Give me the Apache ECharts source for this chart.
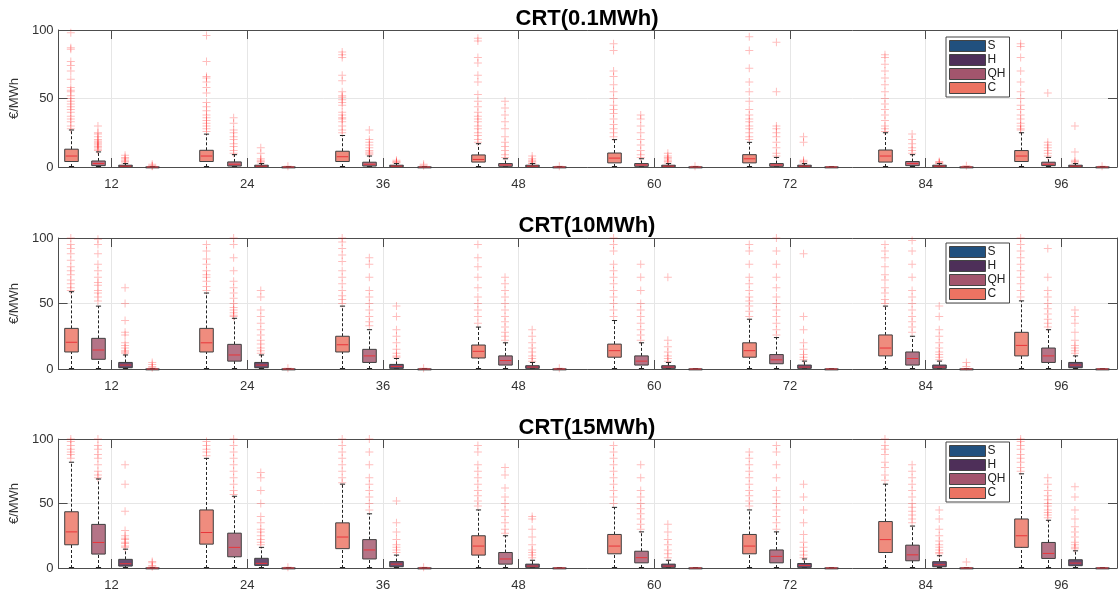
<!DOCTYPE html>
<html>
<head>
<meta charset="utf-8">
<title>CRT boxplots</title>
<style>
  * { margin: 0; padding: 0; }
  body { background: #fff; }
</style>
</head>
<body>
<div id="chart" style="width:1118px;height:592px;"></div>
<script src="https://cdn.jsdelivr.net/npm/echarts@6/dist/echarts.min.js"></script>
<script>
// ---- data ----
var groupLabels = ['12', '24', '36', '48', '60', '72', '84', '96'];
var boxNames = ['C', 'QH', 'H', 'S'];
var titles = ['CRT(0.1MWh)', 'CRT(10MWh)', 'CRT(15MWh)'];
var yTicks = [0, 50, 100];

// box stats per group: [lower whisker, Q1, median, Q3, upper whisker]
var p1C  = [[0,4,8,13,27],[0,4,8,12.2,24],[0,4,7.5,11.5,23],[0,3.6,5.5,8.8,17],[0,3,6.5,10.2,20],[0,3,6,9,18],[0,3.6,8,12.4,25],[0,4,8,12,25]];
var p1QH = [[0,1,2.5,4.4,11],[0,0.7,2,3.7,9],[0,0.7,2,3.5,8],[0,0.5,1.5,2.5,6],[0,0.5,1.5,2.5,6],[0,0.5,1.5,2.5,7],[0,1,2.5,4,9],[0,1,2,3.5,7]];
var p1H  = [[0,0.2,0.6,1.3,2.5],[0,0.2,0.6,1.3,2.5],[0,0.2,0.6,1.3,2.5],[0,0.2,0.6,1.3,2.5],[0,0.2,0.6,1.3,2.5],[0,0.2,0.6,1.3,2.5],[0,0.2,0.6,1.3,2.5],[0,0.2,0.6,1.3,2.5]];
var p1S  = [[0,0,0,0.1,0.3],[0,0,0,0.1,0.3],[0,0,0,0.1,0.3],[0,0,0,0.1,0.3],[0,0,0,0.1,0.3],[0,0,0,0.1,0.3],[0,0,0,0.1,0.3],[0,0,0,0.1,0.3]];
var p1Cout  = [[28,30,33,35,37,40,42,44,46,48,50,52,55,56,58,64,70,74,77,86,87,98],[26,28,30,32,34,36,38,41,44,47,54,58,62,65,66,77,96],[25,27,30,33,35,36,38,40,45,47,49,51,52,55,63,67,80,82,84],[18,20,23,25,28,30,33,35,37,40,44,48,53,62,67,76,80,92,94],[22,25,28,31,35,39,42,45,50,55,60,66,70,85,90],[20,22,25,28,30,33,35,38,42,48,55,62,72,85,95],[26,28,30,34,38,42,46,50,55,60,65,70,75,80,82],[27,28,30,32,35,38,42,45,50,55,62,70,80,88,90]];
var p1QHout = [[12,13,14,15,16,17,18,19,20,22,24,25,30],[10,12,15,17,20,22,25,27,32,36],[9,10,11,12,14,16,18,20,27],[7,9,12,15,18,22,28,33,38,43,48],[7,9,12,16,20,25,30,35,38],[8,10,14,18,22,25,28,30,55,91],[10,12,14,17,20,24],[8,10,12,14,16,18,54]];
var p1Hout  = [[3,4,5,6,7,8.5],[3,4,5,6,10,14],[3,3.5,4,5],[2.5,3,4,5,6,8],[3,4,5,6,7,8,10],[3,4,5,18,22],[2.5,3,3.5,4],[3,4,5,11,30]];
var p1Sout  = [[0.5,1,2],[0.5],[1,2],[0.5],[0.5],[],[1],[0.5]];

var p2C  = [[0,13,20.4,31,59],[0,13,20,31,58],[0,13,18.5,25,48],[0,8.4,13.5,18.3,32],[0,9,14,19,37],[0,9,14,20,38],[0,10,16,26,48],[0,10,18,28,52]];
var p2QH = [[0,7.4,14.5,23.4,48],[0,6,10.7,18.8,38.7],[0,5,10,15,30],[0,3,6.5,10,20],[0,3,6,10,20],[0,4,7,11,24],[0,3,8,13,25],[0,5,10,16,30]];
var p2H  = [[0,1,3,5,10.7],[0,1,3,5,10.7],[0,0.5,2,3.5,8],[0,0.5,1.5,2.5,5],[0,0.5,1.5,2.5,5],[0,0.5,1.5,3,6],[0,0.5,1.5,3,6],[0,1,3,5,10]];
var p2S  = [[0,0,0,0.1,0.3],[0,0,0,0.1,0.3],[0,0,0,0.1,0.3],[0,0,0,0.1,0.3],[0,0,0,0.1,0.3],[0,0,0,0.1,0.3],[0,0,0,0.1,0.3],[0,0,0,0.1,0.3]];
var p2Cout  = [[60,62,65,68,72,75,78,83,88,92,95,100],[60,63,67,70,72,75,80,84,90,95],[50,53,56,60,65,70,75,82,87,92,97,100],[35,40,45,50,55,62,70,78,85,95],[40,45,50,55,60,65,70,75,80,90,95,100],[40,44,48,52,55,60,65,70,80,90,95],[50,53,58,62,68,72,78,85,90,95],[55,60,65,70,75,80,85,90,95,100]];
var p2QHout = [[52,55,58,60,64,66,70,75,80,88,95,99],[40,41,43,45,47,50,54,58,62,67,75,85,95,100],[33,36,40,45,50,55,60,70,80,85],[22,25,28,32,36,40,45,50,55,60,65,70],[22,26,30,35,40,45,50,60,70,80],[26,30,35,40,45,50,55,62,70,80,90,100],[28,32,36,40,45,50,55,60,70,80,90,98],[32,35,38,42,46,50,55,60,70,92]];
var p2Hout  = [[12,13,14,16,18,20,26,28,37,50,62],[12,14,16,19,22,26,30,35,40,45,55,60],[9,10,12,15,20,25,30,40,48],[6,8,10,13,16,20,25,30],[6,8,10,13,17,22,70],[7,9,11,15,20,30,40,88],[7,9,11,13,16,20,25,30,40,48],[12,14,16,18,22,28,35,40,45]];
var p2Sout  = [[1,2,3.5,5],[0.5],[0.5],[0.5],[],[],[2,5],[]];

var p3C  = [[0,18,28,43.6,82],[0,18.5,27.5,45,85],[0,15,24,35,65],[0,10,17,25,45],[0,11,17,26,47],[0,11,17,26,45],[0,12,22,36,65],[0,16,25,38,73]];
var p3QH = [[0,10.8,19.8,33.8,69],[0,8.7,16,27,55.6],[0,7,14,22,42],[0,3,7,12,25],[0,4,8,13,28],[0,4,9,14,28],[0,5.6,10.2,17.7,32.5],[0,7.4,11.3,19.8,37]];
var p3H  = [[0,1.5,3.3,6.7,14.6],[0,2,3.6,7.5,16],[0,1,3,5,10],[0,0.5,1.5,3,6],[0,0.5,1.5,3,6],[0,0.5,2,3.5,7],[0,1,2.5,4.9,9.5],[0,1.8,3.8,6.4,13.3]];
var p3S  = [[0,0,0,0.1,0.3],[0,0,0,0.1,0.3],[0,0,0,0.1,0.3],[0,0,0,0.1,0.3],[0,0,0,0.1,0.3],[0,0,0,0.1,0.3],[0,0,0,0.1,0.3],[0,0,0,0.1,0.3]];
var p3Cout  = [[85,88,90,92,95,98,100],[87,90,92,95,98],[66,70,75,80,85,90,95,100],[48,52,56,60,65,70,75,80,90,95],[50,55,60,65,70,75,80,85,90,95],[48,52,56,60,65,70,75,80,85,90],[68,72,78,82,88,92,95,100],[75,78,82,85,88,92,95,98,100]];
var p3QHout = [[70,72,75,80,85,88,92,95,100],[57,60,65,70,75,80,85,90,95,100],[45,50,55,60,65,70,80,90,100],[27,30,35,40,45,50,55,62,72,78],[30,34,38,42,46,50,55,60,70,80],[30,35,40,45,50,55,60,70,80,90,95],[35,38,41,44,47,50,55,60,65,70,75,80],[39,41,43,45,48,50,53,56,60,65,70]];
var p3Hout  = [[16,17,19,20,22,23,25,29,44,65,80],[18,20,22,25,28,30,35,40,50,60,70,74],[12,14,16,18,22,28,35,52],[8,10,12,14,18,24,30,38,40],[8,11,14,18,22,28,34],[8,10,13,16,20,26,35,45,55,65],[11,12,14,16,18,21,25,30,38,45],[15,16,18,20,24,28,32,38,45,55,63]];
var p3Sout  = [[1,2,4,5],[0.5],[0.5],[],[],[],[4.6],[]];

var plots = [
    { box: [p1C, p1QH, p1H, p1S], out: [p1Cout, p1QHout, p1Hout, p1Sout] },
    { box: [p2C, p2QH, p2H, p2S], out: [p2Cout, p2QHout, p2Hout, p2Sout] },
    { box: [p3C, p3QH, p3H, p3S], out: [p3Cout, p3QHout, p3Hout, p3Sout] }
];

// ---- style / layout ----
var solid = { C: '#ec7362', QH: '#a3556d', H: '#4e2f59', S: '#21507e' };
var boxFill = { C: 'rgba(236,115,98,0.82)', QH: 'rgba(163,85,109,0.82)', H: 'rgba(78,47,89,0.85)', S: 'rgba(33,80,126,0.85)' };
var gridPos = [ { top: 30, height: 137 }, { top: 238, height: 131 }, { top: 439, height: 130 } ];
var titleTop = [8, 215, 417];
var legendTop = [37, 243, 442];
var FONT = '"Liberation Sans", Arial, Helvetica, sans-serif';
var axisColor = '#4d4d4d';
var GROUP_STEP = 5;
var tickValues = groupLabels.map(function (l, i) { return i * GROUP_STEP; });
var plusPath = 'path://M0,3.5H8V4.5H0Z M3.5,0H4.5V8H3.5Z';

function boxRenderer(fill) {
    return function (params, api) {
        var x = api.value(0);
        var pLo = api.coord([x, api.value(1)]);
        var pQ1 = api.coord([x, api.value(2)]);
        var pMd = api.coord([x, api.value(3)]);
        var pQ3 = api.coord([x, api.value(4)]);
        var pHi = api.coord([x, api.value(5)]);
        var bw = api.size([0.5, 0])[0];
        var cw = bw * 0.38;
        var cx = Math.round(pMd[0]) + 0.5;
        var dash = { stroke: '#222', lineWidth: 1, lineDash: [3, 2] };
        var capStyle = { stroke: '#222', lineWidth: 1 };
        return {
            type: 'group',
            children: [
                { type: 'line', shape: { x1: cx, y1: pQ3[1], x2: cx, y2: pHi[1] }, style: dash },
                { type: 'line', shape: { x1: cx, y1: pLo[1], x2: cx, y2: pQ1[1] }, style: dash },
                { type: 'line', shape: { x1: cx - cw / 2, y1: pHi[1], x2: cx + cw / 2, y2: pHi[1] }, style: capStyle },
                { type: 'line', shape: { x1: cx - cw / 2, y1: pLo[1] - 0.5, x2: cx + cw / 2, y2: pLo[1] - 0.5 }, style: capStyle },
                { type: 'rect', shape: { x: cx - bw / 2, y: pQ3[1], width: bw, height: Math.max(pQ1[1] - pQ3[1], 1) },
                  style: { fill: fill, stroke: '#3f3f3f', lineWidth: 1 } },
                { type: 'line', shape: { x1: cx - bw / 2 + 1, y1: pMd[1], x2: cx + bw / 2 - 1, y2: pMd[1] },
                  style: { stroke: '#e8353a', lineWidth: 1 } }
            ]
        };
    };
}

var option = {
    animation: false,
    backgroundColor: '#fff',
    title: [],
    legend: [],
    grid: [],
    xAxis: [],
    yAxis: [],
    series: []
};

plots.forEach(function (pl, i) {
    option.title.push({
        text: titles[i], left: 587, top: titleTop[i], padding: 0, textAlign: 'center',
        textStyle: { fontFamily: FONT, fontSize: 22, fontWeight: 'bold', color: '#000' }
    });
    option.grid.push({ left: 52, right: 1, top: gridPos[i].top, height: gridPos[i].height });

    var xBase = {
        type: 'value', gridIndex: i, min: -1.95, max: 37.05,
        axisLine: { onZero: false, lineStyle: { color: axisColor, width: 1 } },
        axisTick: { inside: true, length: 9, customValues: tickValues, lineStyle: { color: axisColor } }
    };
    option.xAxis.push(Object.assign({}, xBase, {
        position: 'bottom',
        splitLine: { show: true, lineStyle: { color: '#e6e6e6' } },
        axisLabel: {
            customValues: tickValues, margin: 11, color: '#333', fontSize: 13, fontFamily: FONT,
            formatter: function (v) { return groupLabels[Math.round(v / GROUP_STEP)]; }
        }
    }));
    option.xAxis.push(Object.assign({}, xBase, {
        position: 'top', splitLine: { show: false }, axisLabel: { show: false }
    }));

    var yBase = {
        type: 'value', gridIndex: i, min: yTicks[0], max: yTicks[yTicks.length - 1], interval: 50,
        axisLine: { show: true, onZero: false, lineStyle: { color: axisColor, width: 1 } },
        axisTick: { show: true, inside: true, length: 9, lineStyle: { color: axisColor } }
    };
    option.yAxis.push(Object.assign({}, yBase, {
        position: 'left',
        name: '€/MWh', nameLocation: 'middle', nameGap: 21, nameRotate: 90,
        nameTextStyle: { fontFamily: FONT, fontSize: 13, color: '#333' },
        splitLine: { show: true, lineStyle: { color: '#e6e6e6' } },
        axisLabel: { margin: 5, color: '#333', fontSize: 13, fontFamily: FONT }
    }));
    option.yAxis.push(Object.assign({}, yBase, {
        position: 'right', splitLine: { show: false }, axisLabel: { show: false }
    }));

    option.legend.push({
        orient: 'vertical', left: 946, top: legendTop[i],
        itemWidth: 36, itemHeight: 11, itemGap: 2,
        padding: [3, 4, 3, 3], backgroundColor: '#fff',
        borderColor: '#444', borderWidth: 1, borderRadius: 0,
        icon: 'rect', selectedMode: false,
        textStyle: { fontFamily: FONT, fontSize: 12, lineHeight: 11, color: '#222', padding: [0, 0, 0, -3] },
        data: ['S', 'H', 'QH', 'C'].map(function (n) {
            return { name: n, itemStyle: { color: solid[n], borderColor: '#444', borderWidth: 1 } };
        })
    });

    boxNames.forEach(function (name, k) {
        var offset = k - 1.5;
        option.series.push({
            type: 'scatter', name: name + ' outliers', xAxisIndex: 2 * i, yAxisIndex: 2 * i,
            symbol: plusPath, symbolSize: 8, silent: true, z: 2,
            itemStyle: { color: 'rgba(255,0,0,0.32)' },
            data: pl.out[k].reduce(function (acc, vals, g) {
                return acc.concat(vals.map(function (v) { return [g * GROUP_STEP + offset, v]; }));
            }, [])
        });
        option.series.push({
            type: 'custom', name: name, xAxisIndex: 2 * i, yAxisIndex: 2 * i, z: 3,
            itemStyle: { color: solid[name] },
            renderItem: boxRenderer(boxFill[name]),
            encode: { x: 0, y: [1, 2, 3, 4, 5] },
            data: pl.box[k].map(function (s, g) { return [g * GROUP_STEP + offset].concat(s); })
        });
    });
});

var chart = echarts.init(document.getElementById('chart'));
chart.setOption(option);
</script>
</body>
</html>
